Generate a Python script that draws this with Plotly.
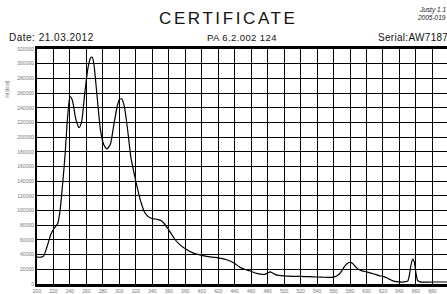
import plotly.graph_objects as go

wavelength = [200, 205, 208, 212, 217, 221, 225, 228, 231, 234, 237, 240, 243, 247, 251, 254, 258, 262, 265, 267,
              269, 273, 277, 281, 285, 289, 293, 297, 300, 303, 306, 310, 314, 318, 322, 326, 331, 336, 341, 346,
              351, 356, 361, 366, 372, 380, 390, 400, 410, 420, 425, 430, 435, 440, 446, 452, 458, 465, 471, 476,
              480, 483, 486, 490, 500, 510, 520, 530, 540, 550, 556, 562, 566, 570, 574, 578, 581, 584, 588, 593,
              600, 608, 615, 621, 627, 633, 640, 646, 650, 652, 654, 656, 658, 660, 662, 665, 680, 700]
intensity = [36500, 36500, 38000, 50000, 68000, 76000, 82000, 100000, 135000, 175000, 225000, 255000, 250000, 225000,
             213000, 220000, 260000, 295000, 308000, 309000, 300000, 255000, 210000, 190000, 184000, 190000, 215000,
             240000, 251000, 252000, 242000, 210000, 172000, 150000, 130000, 112000, 97000, 91000, 89000, 88000,
             86000, 80000, 72000, 63000, 55000, 48000, 42000, 39000, 37000, 35500, 34500, 33000, 31000, 28000,
             23000, 20000, 18000, 15000, 13500, 13000, 15000, 16500, 15000, 12500, 11000, 10500, 10300, 10000,
             9500, 9200, 9000, 10000, 12500, 18000, 25000, 29000, 29500, 27000, 22000, 18500, 16500, 14000, 11500,
             10000, 7000, 4000, 2800, 2800, 4000, 12000, 26000, 34000, 30000, 15000, 5000, 2800, 2700, 2700]
x_ticks = list(range(200, 700, 20))
y_ticks = list(range(0, 320001, 20000))

W, H = 447, 294
L, R, T, B = 37, 0, 49, 8
PW, PH = W - L - R, H - T - B

def px(x):
    return (x - L) / PW

def py(y):
    return (H - B - y) / PH

fig = go.Figure()
fig.add_trace(go.Scatter(x=wavelength, y=intensity, mode="lines",
                         line=dict(color="black", width=1.2, shape="spline", smoothing=0.6),
                         hoverinfo="skip", showlegend=False))

axis_font = dict(family="Liberation Sans, Arial, sans-serif", size=5, color="#777")
fig.update_xaxes(range=[200, 697.7], tickvals=x_ticks, ticktext=[str(v) for v in x_ticks],
                 showgrid=True, gridcolor="black", gridwidth=1, zeroline=False,
                 showline=True, linecolor="black", linewidth=3, mirror=True,
                 ticks="", tickfont=axis_font, ticklabelstandoff=0)
fig.update_yaxes(range=[0, 320000], tickvals=y_ticks, ticktext=[str(v) for v in y_ticks],
                 showgrid=True, gridcolor="black", gridwidth=1, zeroline=False,
                 showline=True, linecolor="black", linewidth=2,
                 ticks="", tickfont=axis_font)

txt = "Liberation Sans, Arial, sans-serif"
ann = [
    dict(text='<span style="letter-spacing:2.6px">CERTIFICATE</span>', x=px(228), y=py(18),
         font=dict(family=txt, size=17, color="#111"), xanchor="center", yanchor="middle"),
    dict(text='<span style="letter-spacing:0.5px">Date: 21.03.2012</span>', x=px(7), y=py(37),
         font=dict(family=txt, size=10, color="#111"), xanchor="left", yanchor="middle"),
    dict(text='<span style="letter-spacing:0.4px">PA 6.2.002 124</span>', x=px(242), y=py(37),
         font=dict(family=txt, size=9.5, color="#111"), xanchor="center", yanchor="middle"),
    dict(text='<span style="letter-spacing:0.3px">Serial:AW7187</span>', x=px(376), y=py(37),
         font=dict(family=txt, size=10, color="#111"), xanchor="left", yanchor="middle"),
    dict(text="<i>Justy 1.1</i>", x=px(417), y=py(10),
         font=dict(family=txt, size=6.5, color="#222"), xanchor="left", yanchor="middle"),
    dict(text="<i>2005-019</i>", x=px(415), y=py(17),
         font=dict(family=txt, size=6.5, color="#222"), xanchor="left", yanchor="middle"),
    dict(text="Int [kcal]", x=px(8), y=py(90), textangle=-90,
         font=dict(family=txt, size=4.5, color="#777"), xanchor="center", yanchor="middle"),
    dict(text="700", x=700, y=py(291), xref="x",
         font=axis_font, xanchor="center", yanchor="middle"),
]
for a in ann:
    a.setdefault("xref", "paper")
    a.setdefault("yref", "paper")
    a["showarrow"] = False
fig.update_layout(width=W, height=H, margin=dict(l=L, r=R, t=T, b=B),
                  paper_bgcolor="white", plot_bgcolor="white", annotations=ann)
fig.write_html("out.html", config={"displayModeBar": False},
               post_script="document.body.style.margin='0';document.body.style.overflow='hidden';")
